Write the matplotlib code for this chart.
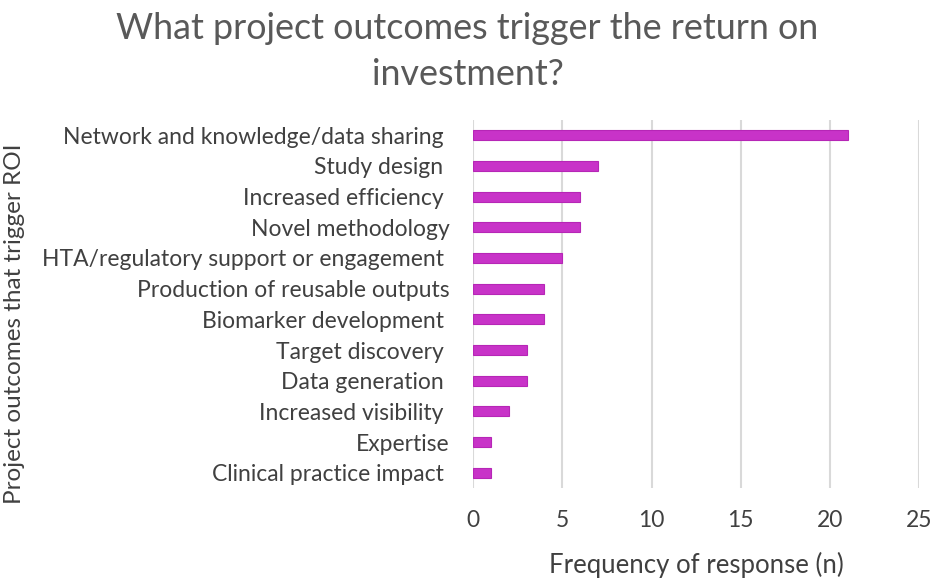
import matplotlib
matplotlib.use("Agg")
import matplotlib.pyplot as plt

categories = [
    "Network and knowledge/data sharing ",
    "Study design ",
    "Increased efficiency ",
    "Novel methodology",
    "HTA/regulatory support or engagement ",
    "Production of reusable outputs",
    "Biomarker development ",
    "Target discovery ",
    "Data generation ",
    "Increased visibility ",
    "Expertise",
    "Clinical practice impact ",
]
values = [21, 7, 6, 6, 5, 4, 4, 3, 3, 2, 1, 1]
x_ticks = [0, 5, 10, 15, 20, 25]

plt.rcParams['font.family'] = ['Lato', 'DejaVu Sans']
text_color = '#404040'

fig = plt.figure(figsize=(9.35, 5.79), dpi=100)
ax = fig.add_axes([0.506, 0.157, 0.477, 0.636])

ypos = list(range(len(categories)))
ax.barh(ypos, values, height=0.33, color='#C833C8', edgecolor='#B626B6', linewidth=0.8, zorder=3)
ax.set_yticks(ypos)
ax.set_yticklabels(categories, fontsize=16.5, color=text_color)
ax.set_ylim(len(categories) - 0.5, -0.5)
ax.set_xlim(0, 25)
ax.set_xticks(x_ticks)
ax.set_xticklabels([str(t) for t in x_ticks], fontsize=16.5, color=text_color)
ax.tick_params(axis='both', length=0)
ax.tick_params(axis='x', pad=16)
ax.tick_params(axis='y', pad=17)
ax.xaxis.grid(True, color='#D9D9D9', linewidth=1.5, zorder=0)
for s in ax.spines.values():
    s.set_visible(False)

ax.set_xlabel("Frequency of response (n)", fontsize=18.5, color=text_color, labelpad=15)
fig.text(0.015, 0.440, "Project outcomes that trigger ROI", rotation=90, fontsize=17.5,
         color=text_color, ha='center', va='center')
fig.text(0.5, 0.911, "What project outcomes trigger the return on\ninvestment?", fontsize=25.8,
         color='#595959', ha='center', va='center', linespacing=1.45)

fig.savefig("out.png", dpi=100)
